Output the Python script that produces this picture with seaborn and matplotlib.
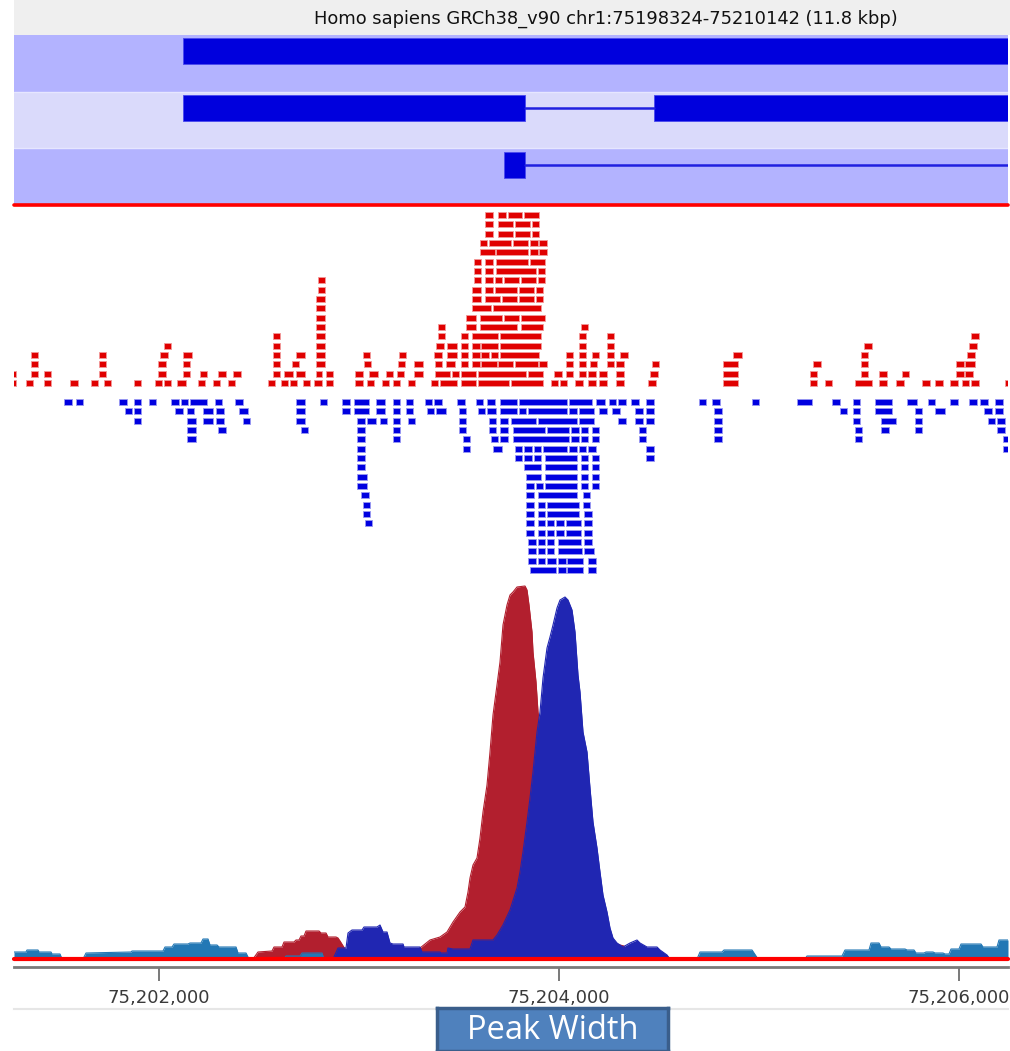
import numpy as np
import matplotlib
matplotlib.use("Agg")
import matplotlib.pyplot as plt
import seaborn as sns
import pandas as pd

sns.set_theme(style="white")
plt.rcParams['font.family'] = ['DejaVu Sans']

# ---- data -------------------------------------------------------------
TITLE = "Homo sapiens GRCh38_v90 chr1:75198324-75210142 (11.8 kbp)"
ORIGIN = 75_201_205          # offsets below are bp from this position
VIEW_START, VIEW_END = 75_201_275, 75_206_245
TICKS = [75_202_000, 75_204_000, 75_206_000]

# transcripts (offsets, bp)
TRANSCRIPT_EXONS = [[(915, 6000)], [(915, 2625), (3270, 6000)], [(2520, 2625)]]
TRANSCRIPT_INTRONS = [[], [(2625, 3270)], [(2625, 6000)]]

# forward strand reads, one list per stacking row (row 0 nearest the middle)
PLUS_ROWS = [
    [(65, 80), (130, 165), (220, 255), (350, 390), (455, 490), (520, 555), (670, 705), (775, 810), (820, 855),
     (885, 930), (990, 1025), (1065, 1100), (1140, 1175), (1340, 1375), (1405, 1440), (1450, 1485), (1515, 1550),
     (1570, 1610), (1630, 1665), (1775, 1815), (1835, 1870), (1910, 1945), (1965, 2000), (2040, 2075), (2155, 2190),
     (2200, 2285), (2305, 2380), (2390, 2545), (2555, 2715), (2755, 2790), (2800, 2835), (2875, 2915), (2940, 2980),
     (2995, 3035), (3080, 3120), (3240, 3280), (3615, 3690), (4050, 4085), (4125, 4160), (4275, 4360), (4395, 4435),
     (4480, 4520), (4610, 4650), (4675, 4715), (4750, 4790), (4810, 4845), (4855, 4895), (5025, 5040)],
    [(65, 80), (155, 190), (220, 255), (495, 530), (790, 830), (915, 950), (1000, 1035), (1090, 1130), (1165, 1205),
     (1365, 1400), (1420, 1465), (1480, 1525), (1580, 1610), (1630, 1665), (1775, 1815), (1845, 1890), (1930, 1965),
     (1985, 2020), (2070, 2115), (2175, 2250), (2260, 2295), (2305, 2380), (2390, 2630), (2640, 2715), (2770, 2810),
     (2830, 2865), (2895, 2930), (2940, 2980), (2995, 3035), (3080, 3120), (3250, 3290), (3615, 3690), (4050, 4085),
     (4305, 4340), (4395, 4435), (4510, 4545), (4780, 4820), (4825, 4865)],
    [(155, 190), (495, 530), (790, 830), (915, 950), (1365, 1400), (1460, 1495), (1580, 1625), (1820, 1855),
     (1990, 2025), (2070, 2115), (2175, 2210), (2230, 2275), (2305, 2340), (2360, 2400), (2405, 2485), (2490, 2565),
     (2575, 2690), (2695, 2735), (2830, 2865), (2895, 2930), (2950, 2985), (3035, 3070), (3080, 3120), (3260, 3295),
     (3615, 3690), (4065, 4105), (4305, 4340), (4780, 4820), (4825, 4875)],
    [(155, 190), (495, 530), (800, 840), (915, 960), (1365, 1400), (1480, 1525), (1580, 1625), (1815, 1850),
     (1995, 2030), (2170, 2210), (2235, 2285), (2305, 2340), (2360, 2400), (2405, 2445), (2455, 2490), (2500, 2695),
     (2830, 2865), (2895, 2930), (2960, 2995), (3035, 3070), (3100, 3140), (3665, 3710), (4305, 4340), (4835, 4875)],
    [(820, 855), (1365, 1400), (1580, 1625), (2180, 2220), (2235, 2285), (2305, 2340), (2360, 2400), (2405, 2490),
     (2500, 2705), (2895, 2930), (3035, 3070), (4320, 4360), (4845, 4885)],
    [(1365, 1400), (1580, 1625), (2190, 2225), (2305, 2340), (2360, 2490), (2500, 2705), (2895, 2930), (3035, 3070),
     (4855, 4895)],
    [(1580, 1625), (2190, 2225), (2330, 2380), (2400, 2585), (2605, 2715), (2905, 2940)],
    [(1580, 1625), (2330, 2380), (2400, 2510), (2520, 2595), (2605, 2725)],
    [(1580, 1625), (2360, 2455), (2465, 2705)],
    [(1580, 1625), (2360, 2405), (2425, 2500), (2510, 2585), (2595, 2670), (2680, 2715)],
    [(1590, 1625), (2360, 2405), (2425, 2465), (2475, 2585), (2595, 2670), (2680, 2715)],
    [(1590, 1625), (2370, 2405), (2425, 2465), (2475, 2510), (2520, 2595), (2605, 2680), (2690, 2725)],
    [(2370, 2405), (2425, 2465), (2480, 2680), (2690, 2725)],
    [(2370, 2405), (2425, 2465), (2480, 2640), (2650, 2725)],
    [(2400, 2475), (2480, 2640), (2650, 2690), (2695, 2735)],
    [(2400, 2435), (2445, 2555), (2565, 2640), (2650, 2690), (2695, 2735)],
    [(2425, 2465), (2490, 2565), (2575, 2650), (2660, 2695)],
    [(2425, 2465), (2490, 2565), (2575, 2650), (2660, 2695)],
    [(2425, 2465), (2490, 2530), (2540, 2610), (2620, 2695)],
]

# reverse strand reads, row 0 nearest the middle
MINUS_ROWS = [
    [(320, 360), (380, 415), (595, 635), (670, 705), (745, 780), (855, 895), (905, 940), (950, 1035), (1075, 1110),
     (1175, 1215), (1480, 1525), (1600, 1635), (1710, 1750), (1770, 1845), (1880, 1925), (1965, 2000), (2030, 2065),
     (2125, 2160), (2170, 2210), (2285, 2325), (2380, 2415), (2435, 2475), (2500, 2585), (2595, 2835), (2845, 2960),
     (2980, 3025), (3045, 3080), (3090, 3130), (3155, 3195), (3230, 3270), (3495, 3530), (3560, 3600), (3760, 3795),
     (3985, 4060), (4160, 4200), (4265, 4300), (4375, 4460), (4535, 4585), (4640, 4675), (4750, 4790), (4845, 4885),
     (4900, 4940), (4975, 5015)],
    [(625, 660), (670, 705), (875, 915), (935, 970), (1015, 1065), (1080, 1120), (1195, 1240), (1480, 1525),
     (1710, 1750), (1770, 1845), (1880, 1925), (1965, 2000), (2030, 2065), (2135, 2170), (2180, 2230), (2295, 2330),
     (2390, 2425), (2435, 2480), (2500, 2585), (2595, 2630), (2640, 2835), (2845, 2885), (2895, 2970), (2995, 3035),
     (3060, 3100), (3175, 3215), (3230, 3270), (3570, 3610), (4200, 4235), (4265, 4300), (4375, 4460), (4575, 4610),
     (4675, 4725), (4920, 4960), (4975, 5015)],
    [(670, 705), (935, 980), (1015, 1065), (1080, 1120), (1215, 1250), (1480, 1525), (1785, 1825), (1835, 1880),
     (1900, 1935), (1965, 2000), (2040, 2075), (2295, 2330), (2445, 2480), (2500, 2540), (2555, 2680), (2690, 2885),
     (2895, 2970), (3090, 3130), (3175, 3215), (3230, 3270), (3570, 3610), (4265, 4300), (4405, 4480), (4575, 4610),
     (4940, 4975), (4985, 5025)],
    [(935, 980), (1090, 1130), (1505, 1540), (1785, 1825), (1965, 2000), (2295, 2330), (2445, 2480), (2500, 2540),
     (2565, 2725), (2735, 2845), (2855, 2895), (2905, 2940), (2960, 2995), (3195, 3230), (3570, 3610), (4275, 4310),
     (4405, 4445), (4575, 4610), (4985, 5025)],
    [(935, 980), (1785, 1825), (1965, 2000), (2315, 2350), (2455, 2490), (2500, 2540), (2565, 2845), (2855, 2895),
     (2905, 2940), (2960, 2995), (3195, 3230), (3570, 3610), (4275, 4310), (5015, 5040)],
    [(1785, 1825), (2315, 2350), (2465, 2510), (2575, 2610), (2620, 2660), (2670, 2705), (2715, 2835), (2845, 2885),
     (2895, 2930), (2940, 2980), (3230, 3270), (5015, 5040)],
    [(1785, 1825), (2575, 2610), (2620, 2660), (2670, 2705), (2725, 2885), (2905, 2940), (2960, 2995), (3230, 3270)],
    [(1785, 1825), (2620, 2705), (2725, 2885), (2905, 2940), (2960, 2995)],
    [(1785, 1835), (2630, 2705), (2725, 2885), (2905, 2940), (2960, 2995)],
    [(1785, 1835), (2630, 2670), (2680, 2715), (2725, 2885), (2905, 2940), (2960, 2995)],
    [(1805, 1845), (2630, 2670), (2690, 2885), (2915, 2950)],
    [(1815, 1850), (2630, 2670), (2690, 2725), (2735, 2895), (2915, 2950)],
    [(1815, 1850), (2630, 2670), (2690, 2725), (2735, 2895), (2920, 2960)],
    [(1825, 1860), (2630, 2670), (2690, 2725), (2735, 2770), (2780, 2820), (2830, 2905), (2920, 2960)],
    [(2630, 2670), (2690, 2725), (2735, 2770), (2780, 2820), (2830, 2905), (2920, 2960)],
    [(2640, 2680), (2690, 2725), (2735, 2770), (2790, 2905), (2920, 2960)],
    [(2640, 2680), (2690, 2725), (2735, 2770), (2790, 2910), (2920, 2970)],
    [(2640, 2680), (2690, 2725), (2735, 2780), (2790, 2830), (2835, 2915), (2940, 2980)],
    [(2650, 2780), (2790, 2830), (2835, 2915), (2940, 2980)],
]

# coverage profiles: position offsets (bp) and depth
CONTROL_POS = [70, 130, 135, 190, 195, 255, 260, 300, 310, 415, 430, 655, 660, 815, 825, 860, 870, 940, 950, 1005,
               1015, 1040, 1050, 1085, 1095, 1180, 1190, 1230, 1245, 1420, 1430, 1500, 1510, 1610, 1620, 3485, 3500,
               3610, 3620, 3760, 3790, 4025, 4035, 4210, 4225, 4345, 4355, 4395, 4405, 4445, 4455, 4525, 4535, 4570,
               4580, 4620, 4630, 4665, 4675, 4715, 4725, 4745, 4755, 4795, 4805, 4905, 4915, 4985, 4995, 5040]
CONTROL_DEPTH = [7, 7, 9, 9, 7, 7, 5, 5, 0, 0, 6, 7, 8, 8, 12, 12, 15, 15, 16, 16,
                 20, 20, 14, 14, 12, 12, 6, 6, 0, 0, 3, 3, 6, 6, 0, 0, 7,
                 7, 9, 9, 0, 0, 3, 3, 9, 9, 16, 16, 12, 12, 10, 10, 9, 9,
                 6, 6, 7, 7, 6, 6, 5, 5, 10, 10, 15, 15, 12, 12, 19, 19]

PLUS_POS = [1265, 1290, 1360, 1370, 1410, 1420, 1470, 1480, 1495, 1505, 1520, 1530, 1595, 1605, 1630, 1640, 1680,
            1690, 1700, 1725, 1750, 2075, 2100, 2150, 2200, 2235, 2265, 2300, 2325, 2340, 2350, 2365, 2385, 2400,
            2415, 2435, 2450, 2465, 2485, 2500, 2515, 2535, 2550, 2565, 2585, 2625, 2635, 2645, 2660, 2665, 2680,
            2690, 2725, 2750, 2800, 2850, 2900, 2950, 3000, 3050, 3100, 3120, 3135]
PLUS_DEPTH = [0, 7, 8, 12, 12, 17, 17, 19, 19, 23, 23, 28, 28, 26, 26, 22, 22,
              21, 18, 10, 8, 8, 11, 19, 22, 27, 37, 47, 52, 67, 81, 94, 101, 121,
              147, 174, 207, 244, 274, 297, 334, 354, 364, 367, 372, 373, 369, 354, 327, 307, 277,
              247, 200, 160, 110, 70, 45, 30, 22, 17, 14, 13, 0]

MINUS_POS = [1665, 1690, 1730, 1740, 1760, 1810, 1820, 1885, 1900, 1915, 1935, 1950, 1965, 2015, 2020, 2100, 2110,
             2200, 2205, 2235, 2240, 2265, 2350, 2365, 2465, 2485, 2515, 2550, 2585, 2600, 2615, 2635, 2650, 2665,
             2685, 2700, 2715, 2735, 2750, 2765, 2785, 2800, 2825, 2840, 2860, 2875, 2890, 2900, 2915, 2935, 2950,
             2965, 2985, 3000, 3015, 3035, 3050, 3065, 3085, 3115, 3150, 3185, 3200, 3235, 3285, 3300, 3335, 3350]
MINUS_DEPTH = [0, 11, 11, 26, 29, 29, 32, 32, 34, 27, 27, 16, 15, 15, 12, 12, 7,
               7, 6, 6, 11, 10, 10, 19, 19, 24, 34, 49, 71, 87, 107, 137, 161, 187,
               227, 247, 281, 311, 322, 334, 351, 359, 362, 359, 349, 327, 284, 267, 227, 207, 171,
               137, 111, 87, 64, 47, 31, 21, 16, 12, 16, 19, 16, 12, 12, 9, 4, 0]

# ---- figure -----------------------------------------------------------
W, H = 1010, 1051
fig = plt.figure(figsize=(W / 100, H / 100), dpi=100)


def panel(x0, y0, x1, y1):
    ax = fig.add_axes([x0 / W, 1 - y1 / H, (x1 - x0) / W, (y1 - y0) / H])
    ax.set_xticks([])
    ax.set_yticks([])
    for s in ax.spines.values():
        s.set_visible(False)
    return ax


# title bar
bar = panel(14, 0, 1010, 35)
bar.set_facecolor('#efefef')
fig.text(606 / W, 1 - 19 / H, TITLE, ha='center', va='center', fontsize=12.9, color='#111111')

# gene track
gene_ax = panel(14, 35, 1008, 205)
gene_ax.set_xlim(VIEW_START, VIEW_END)
gene_ax.set_ylim(3, 0)
for i, c in enumerate(['#b3b3ff', '#dadafb', '#b3b3ff']):
    gene_ax.axhspan(i, i + 1, color=c, lw=0)
for i in (1, 2):
    gene_ax.axhline(i, color='#e6e6ff', lw=1)
for i, exons in enumerate(TRANSCRIPT_EXONS):
    gene_ax.broken_barh([(ORIGIN + s, e - s) for s, e in exons], (i + 0.06, 0.46),
                        facecolor='#0000dd', edgecolor='#4a4aee', lw=0.6)
for i, introns in enumerate(TRANSCRIPT_INTRONS):
    for s, e in introns:
        sns.lineplot(x=[ORIGIN + s, ORIGIN + e], y=[i + 0.29, i + 0.29], ax=gene_ax,
                     color='#2020e0', lw=1.8, estimator=None)
gene_ax.set_xlabel('')
gene_ax.set_ylabel('')

# reads track
reads_ax = panel(14, 205, 1008, 580)
reads_ax.set_xlim(VIEW_START, VIEW_END)
reads_ax.set_ylim(-20.1, 20.1)
for r, segs in enumerate(PLUS_ROWS):
    reads_ax.broken_barh([(ORIGIN + s + 1.5, e - s - 3) for s, e in segs], (r + 1.02 - 0.32, 0.64),
                         facecolor='#e00000', edgecolor='#f29a9a', lw=0.6)
for r, segs in enumerate(MINUS_ROWS):
    reads_ax.broken_barh([(ORIGIN + s + 1.5, e - s - 3) for s, e in segs], (-(r + 1.02) - 0.32, 0.64),
                         facecolor='#0000e0', edgecolor='#9a9af2', lw=0.6)
reads_ax.axhline(20.1, color='#ff0000', lw=2.6, clip_on=False)

# coverage track
cov_ax = panel(14, 575, 1008, 959)
cov_ax.set_xlim(VIEW_START, VIEW_END)
cov_ax.set_ylim(0, 384)
tracks = [
    (PLUS_POS, PLUS_DEPTH, '#b21f2e', 1),
    (CONTROL_POS, CONTROL_DEPTH, '#2378b5', 2),
    (MINUS_POS, MINUS_DEPTH, '#2026b2', 3),
]
for pos, depth, color, z in tracks:
    df = pd.DataFrame({'pos': ORIGIN + np.array(pos), 'depth': depth})
    cov_ax.fill_between(df['pos'], df['depth'], color=color, lw=0, zorder=z)
    sns.lineplot(data=df, x='pos', y='depth', ax=cov_ax, color=color, lw=0.8,
                 estimator=None, sort=False, zorder=z)
cov_ax.set_xlabel('')
cov_ax.set_ylabel('')
cov_ax.axhline(0, color='#ff0000', lw=3, clip_on=False, zorder=5)

# ruler
rule_ax = panel(14, 967, 1008, 1009)
rule_ax.set_xlim(VIEW_START, VIEW_END)
rule_ax.set_ylim(0, 1)
rule_ax.spines['top'].set_visible(True)
rule_ax.spines['top'].set_color('#7a7a7a')
rule_ax.spines['top'].set_linewidth(2)
rule_ax.spines['bottom'].set_visible(True)
rule_ax.spines['bottom'].set_color('#e6e6e6')
rule_ax.spines['bottom'].set_linewidth(1.5)
rule_ax.xaxis.tick_top()
rule_ax.set_xticks(TICKS)
rule_ax.tick_params(axis='x', direction='in', length=10, width=1.1, color='#555555',
                    labeltop=False, labelbottom=False, top=True, bottom=False)
for t in TICKS:
    rule_ax.text(t, 0.26, f"{t:,}", ha='center', va='center', fontsize=13, color='#3a3a3a')

# label box
box = panel(437, 1008, 668, 1051)
box.set_facecolor('#4f81bd')
for s in box.spines.values():
    s.set_visible(True)
    s.set_color('#3a5e8b')
    s.set_linewidth(2.5)
box.text(0.5, 0.47, 'Peak Width', transform=box.transAxes, ha='center', va='center',
         fontsize=23.5, color='white', family=['Open Sans', 'DejaVu Sans'])

fig.savefig('out.png', dpi=100, facecolor='white')
